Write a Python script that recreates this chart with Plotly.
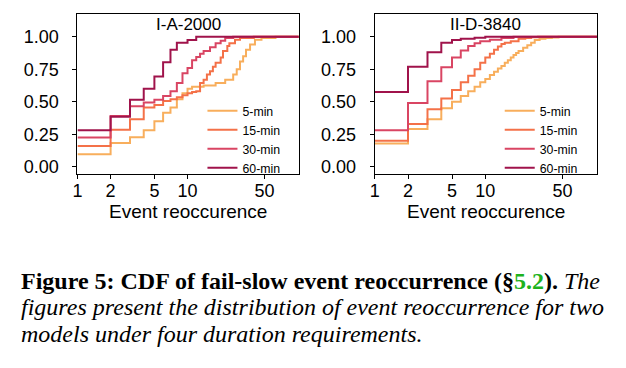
import plotly.graph_objects as go

# ---------------- data ----------------
series_names = ["5-min", "15-min", "30-min", "60-min"]
series_colors = ["#F8AE5C", "#F47148", "#D94563", "#A0134B"]

# Panel I-A-2000
a_5_x = [1, 2, 3, 4, 5, 6, 7, 8, 9, 10, 11, 14, 18, 22, 26, 28, 30, 32, 34, 37, 41, 47, 63, 200]
a_5_y = [0.095, 0.183, 0.227, 0.28, 0.35, 0.415, 0.455, 0.52, 0.565, 0.60, 0.615, 0.625, 0.645, 0.67,
         0.71, 0.75, 0.81, 0.85, 0.90, 0.94, 0.977, 0.99, 1.0, 1.0]
a_15_x = [1, 2, 3, 4, 5, 6, 7, 8, 9, 10, 11, 12, 13, 14, 15, 16, 17, 18, 20, 21, 23, 24, 27, 30, 40, 200]
a_15_y = [0.16, 0.285, 0.365, 0.455, 0.475, 0.505, 0.52, 0.535, 0.55, 0.565, 0.575, 0.58, 0.645, 0.67,
          0.71, 0.735, 0.77, 0.80, 0.84, 0.89, 0.93, 0.95, 0.977, 0.99, 1.0, 1.0]
a_30_x = [1, 2, 3, 4, 5, 6, 7, 8, 9, 10, 11, 12, 13, 14, 16, 18, 20, 22, 26, 200]
a_30_y = [0.225, 0.39, 0.465, 0.495, 0.515, 0.545, 0.58, 0.645, 0.72, 0.76, 0.82, 0.845, 0.87, 0.89,
          0.92, 0.95, 0.97, 0.99, 1.0, 1.0]
a_60_x = [1, 2, 3, 4, 5, 6, 7, 8, 10, 12, 200]
a_60_y = [0.28, 0.385, 0.515, 0.60, 0.695, 0.805, 0.90, 0.955, 0.975, 1.0, 1.0]

# Panel II-D-3840
d_5_x = [1, 2, 3, 4, 5, 6, 7, 8, 9, 10, 11, 12, 13, 14, 15, 16, 17, 18, 19, 20, 22, 24, 26, 28, 31,
         35, 40, 46, 200]
d_5_y = [0.178, 0.29, 0.366, 0.45, 0.50, 0.545, 0.58, 0.615, 0.65, 0.675, 0.705, 0.73, 0.755, 0.775,
         0.80, 0.82, 0.84, 0.86, 0.875, 0.89, 0.915, 0.935, 0.955, 0.975, 0.985, 0.99, 0.995, 1.0, 1.0]
d_15_x = [1, 2, 3, 4, 5, 6, 7, 8, 9, 10, 11, 12, 13, 14, 15, 17, 20, 23, 26, 30, 200]
d_15_y = [0.20, 0.328, 0.443, 0.525, 0.59, 0.65, 0.70, 0.75, 0.80, 0.84, 0.87, 0.90, 0.925, 0.945,
          0.955, 0.965, 0.985, 0.99, 0.997, 1.0, 1.0]
d_30_x = [1, 2, 3, 4, 5, 6, 7, 8, 9, 11, 14, 18, 200]
d_30_y = [0.28, 0.49, 0.658, 0.765, 0.84, 0.895, 0.93, 0.95, 0.965, 0.977, 0.99, 1.0, 1.0]
d_60_x = [1, 2, 3, 4, 5, 6, 8, 10, 200]
d_60_y = [0.575, 0.77, 0.882, 0.955, 0.975, 0.985, 0.993, 1.0, 1.0]

panel_titles = ["I-A-2000", "II-D-3840"]
x_tick_vals = [1, 2, 5, 10, 50]
y_tick_vals = [0, 0.25, 0.5, 0.75, 1.0]
y_tick_text = ["0.00", "0.25", "0.50", "0.75", "1.00"]
x_axis_title = "Event reoccurence"

caption_lines = [
    "<b>Figure 5: CDF of fail-slow event reoccurrence (§<span style='color:#1DB21D'>5.2</span>).</b> <i>The</i>",
    "<i>figures present the distribution of event reoccurrence for two</i>",
    "<i>models under four duration requirements.</i>",
]

panels = [
    [(a_5_x, a_5_y), (a_15_x, a_15_y), (a_30_x, a_30_y), (a_60_x, a_60_y)],
    [(d_5_x, d_5_y), (d_15_x, d_15_y), (d_30_x, d_30_y), (d_60_x, d_60_y)],
]

# ---------------- figure ----------------
# page body has an 8px margin, so the figure is laid out in page pixels minus 8
OFF = 8
W, H = 618, 360
SANS = "Liberation Sans, Arial, Helvetica, sans-serif"
SERIF = "Liberation Serif, Times New Roman, serif"


def fx(px):
    return (px - OFF) / W


def fy(py):
    return 1 - (py - OFF) / H


fig = go.Figure()

x_domains = [[fx(73), fx(296)], [fx(372.7), fx(596.7)]]
y_domain = [fy(175), fy(14)]

for p, series in enumerate(panels):
    xa = "x" if p == 0 else "x2"
    ya = "y" if p == 0 else "y2"
    leg = "legend" if p == 0 else "legend2"
    for (xs, ys), name, col in zip(series, series_names, series_colors):
        fig.add_trace(go.Scatter(
            x=xs, y=ys, mode="lines", name=name,
            line=dict(color=col, width=2, shape="hv"),
            xaxis=xa, yaxis=ya, legend=leg, showlegend=True,
        ))

axis_common = dict(
    showline=True, linecolor="black", linewidth=1, mirror=True,
    ticks="outside", ticklen=4, tickcolor="black", tickwidth=1,
    showgrid=False, zeroline=False,
    tickfont=dict(family=SANS, size=18, color="black"),
)

layout = dict(
    width=W, height=H,
    margin=dict(l=0, r=0, t=0, b=0),
    paper_bgcolor="white", plot_bgcolor="white",
    showlegend=True,
)
for p in range(2):
    sx = "" if p == 0 else "2"
    layout["xaxis" + sx] = dict(
        axis_common, type="log", range=[0, 2.01], domain=x_domains[p],
        tickvals=x_tick_vals, ticktext=[str(v) for v in x_tick_vals],
        anchor="y" + sx, ticklabelstandoff=-3,
    )
    layout["yaxis" + sx] = dict(
        axis_common, range=[-0.0535, 1.176], domain=y_domain,
        tickvals=y_tick_vals, ticktext=y_tick_text,
        anchor="x" + sx, ticklabelstandoff=10,
    )

legend_common = dict(
    font=dict(family=SANS, size=12.3, color="black"),
    bgcolor="rgba(0,0,0,0)", borderwidth=0,
    xanchor="left", yanchor="top", tracegroupgap=0,
    itemwidth=30,
)
layout["legend"] = dict(legend_common, x=fx(199), y=fy(97))
layout["legend2"] = dict(legend_common, x=fx(199 + 299.7), y=fy(97))

fig.update_layout(**layout)

annotations = []
for p, t in enumerate(panel_titles):
    sx = "" if p == 0 else "2"
    annotations.append(dict(
        text=t, xref=("x" + sx + " domain"), yref="paper", x=0.5, y=fy(25),
        xanchor="center", yanchor="middle", showarrow=False,
        font=dict(family=SANS, size=17, color="black"),
    ))
    annotations.append(dict(
        text=x_axis_title, xref=("x" + sx + " domain"), yref="paper", x=0.5, y=fy(213),
        xanchor="center", yanchor="middle", showarrow=False,
        font=dict(family=SANS, size=19, color="black"),
    ))

caption_y = [283, 310, 337]
for line, yy in zip(caption_lines, caption_y):
    annotations.append(dict(
        text=line, xref="paper", yref="paper", x=fx(14), y=fy(yy),
        xanchor="left", yanchor="middle", showarrow=False, align="left",
        font=dict(family=SERIF, size=24, color="black"),
    ))

fig.update_layout(annotations=annotations)

fig.write_html("out.html")
